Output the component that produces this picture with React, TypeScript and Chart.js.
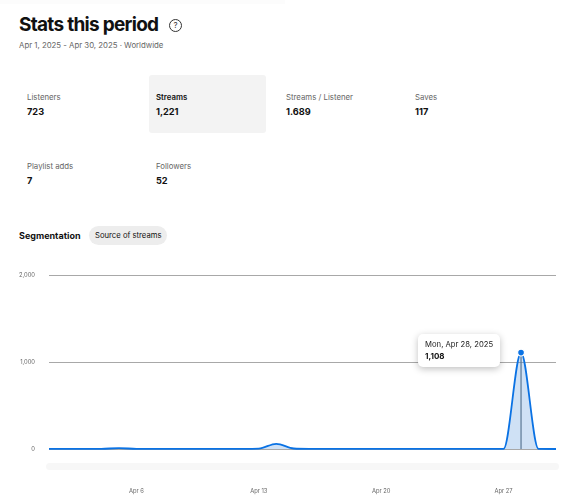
import React, { useEffect, useRef } from "react";
import { Chart, registerables } from "chart.js";

Chart.register(...registerables);

const days = ["Apr 1","Apr 2","Apr 3","Apr 4","Apr 5","Apr 6","Apr 7","Apr 8","Apr 9","Apr 10","Apr 11","Apr 12","Apr 13","Apr 14","Apr 15","Apr 16","Apr 17","Apr 18","Apr 19","Apr 20","Apr 21","Apr 22","Apr 23","Apr 24","Apr 25","Apr 26","Apr 27","Apr 28","Apr 29","Apr 30"];
const streams = [1,1,1,2,10,2,1,1,1,1,1,2,5,60,6,2,1,1,1,1,1,1,1,1,1,1,1,1108,1,0];
const shownTicks = ["Apr 6","Apr 13","Apr 20","Apr 27"];
const activeIndex = 27;
const tooltipTitle = "Mon, Apr 28, 2025";

const statsRow1 = [["Listeners","723"],["Streams","1,221"],["Streams / Listener","1.689"],["Saves","117"]];
const statsRow2 = [["Playlist adds","7"],["Followers","52"]];
const columnX = [27,156,286,415];

const font = "Inter, 'Noto Sans', sans-serif";

const Text = ({ x, y, size, weight = 400, color = "#111", children, ls = 0 }: any) => (
  <div style={{ position: "absolute", left: x, top: y, fontSize: size, fontWeight: weight, color, lineHeight: 1, whiteSpace: "nowrap", letterSpacing: ls, fontFamily: font }}>{children}</div>
);

const focusLine = {
  id: "focusLine",
  beforeDatasetsDraw(chart: any) {
    const { ctx, scales } = chart;
    const x = scales.x.getPixelForValue(activeIndex);
    ctx.save();
    ctx.strokeStyle = "#5f6f7c";
    ctx.lineWidth = 1.2;
    ctx.beginPath();
    ctx.moveTo(x, scales.y.getPixelForValue(streams[activeIndex]));
    ctx.lineTo(x, scales.y.getPixelForValue(0));
    ctx.stroke();
    ctx.restore();
  },
};

export default function App() {
  const ref = useRef<HTMLCanvasElement>(null);
  const tipRef = useRef<HTMLDivElement>(null);
  useEffect(() => {
    const chart = new Chart(ref.current!, {
      type: "line",
      data: {
        labels: days,
        datasets: [{
          data: streams,
          borderColor: "#0a72e4",
          borderWidth: 1.8,
          backgroundColor: "rgba(70,140,215,0.26)",
          fill: "origin",
          cubicInterpolationMode: "monotone",
          pointRadius: streams.map((_, i) => (i === activeIndex ? 3.4 : 0)),
          pointBackgroundColor: "#0a72e4",
          pointBorderColor: "#ffffff",
          pointBorderWidth: 1.2,
          clip: false,
        }],
      },
      options: {
        responsive: false,
        animation: false,
        events: [],
        layout: { padding: { top: 275, right: 8, bottom: 0, left: 0 } },
        plugins: {
          legend: { display: false },
          tooltip: {
            enabled: false,
            external: ({ tooltip }: any) => {
              const el = tipRef.current;
              if (!el || !tooltip.dataPoints?.length) return;
              el.children[0].textContent = tooltipTitle;
              el.children[1].textContent = tooltip.dataPoints[0].parsed.y.toLocaleString("en-US");
              el.style.display = "block";
              el.style.left = tooltip.caretX - 103 + "px";
              el.style.top = tooltip.caretY - 19 + "px";
            },
          },
        },
        scales: {
          x: {
            afterFit: (s: any) => { s.height = 51; },
            grid: { display: false },
            border: { display: false },
            ticks: {
              autoSkip: false,
              maxRotation: 0,
              padding: 31,
              color: "#666",
              font: { size: 5.8, family: font },
              callback(this: any, v: any) {
                const l = this.getLabelForValue(v);
                return shownTicks.includes(l) ? l : null;
              },
            },
          },
          y: {
            min: 0,
            max: 2000,
            afterFit: (s: any) => { s.width = 49; },
            border: { display: false },
            grid: { color: "#a8a8a8", lineWidth: 1, drawTicks: false },
            ticks: {
              stepSize: 1000,
              padding: 14,
              color: "#666",
              font: { size: 5.8, family: font },
              callback: (v: any) => Number(v).toLocaleString("en-US"),
            },
          },
        },
      } as any,
      plugins: [focusLine],
    });
    chart.tooltip!.setActiveElements([{ datasetIndex: 0, index: activeIndex }], { x: 0, y: 0 });
    chart.update();
    return () => chart.destroy();
  }, []);

  const stat = ([label, value]: string[], x: number, y: number, active = false) => (
    <React.Fragment key={label}>
      <Text x={x} y={y} size={7.8} weight={active ? 600 : 400} color={active ? "#111" : "#666"}>{label}</Text>
      <Text x={x} y={y + 13.5} size={9.2} weight={700} color="#111">{value}</Text>
    </React.Fragment>
  );

  return (
    <div style={{ position: "absolute", left: 0, top: 0, width: 564, height: 500, background: "#fff", overflow: "hidden", fontFamily: font }}>
      <div style={{ position: "absolute", left: 0, top: 0, width: 285, height: 4, background: "#fcfcfc" }} />
      <Text x={19} y={15} size={19} weight={700} color="#111" ls={-0.72}>Stats this period</Text>
      <div style={{ position: "absolute", left: 169, top: 18.5, width: 11, height: 11, border: "1px solid #333", borderRadius: "50%", fontSize: 8, lineHeight: "11px", textAlign: "center", color: "#333" }}>?</div>
      <Text x={19} y={42} size={7.8} color="#666">Apr 1, 2025 - Apr 30, 2025 · Worldwide</Text>

      <div style={{ position: "absolute", left: 149, top: 75, width: 117, height: 58, background: "#f3f3f3", borderRadius: 3 }} />
      {statsRow1.map((s, i) => stat(s, columnX[i], 93.5, i === 1))}
      {statsRow2.map((s, i) => stat(s, columnX[i], 162.5))}

      <Text x={19} y={231} size={9} weight={700} color="#111">Segmentation</Text>
      <div style={{ position: "absolute", left: 89, top: 226, width: 78, height: 18.5, background: "#ededed", borderRadius: 9.5 }} />
      <Text x={95} y={231.5} size={7.7} color="#111">Source of streams</Text>

      <div style={{ position: "absolute", left: 46, top: 463, width: 513, height: 7, background: "#f7f7f7", borderRadius: 4 }} />
      <canvas ref={ref} width={564} height={500} style={{ position: "absolute", left: 0, top: 0, display: "block" }} />

      <div ref={tipRef} style={{ position: "absolute", display: "none", width: 82, height: 33, boxSizing: "border-box", padding: "6.5px 0 0 7px", background: "#fff", borderRadius: 5, boxShadow: "0 2px 7px rgba(0,0,0,0.25)", whiteSpace: "nowrap" }}>
        <div style={{ fontSize: 7.7, lineHeight: "10px", color: "#222" }} />
        <div style={{ fontSize: 8, lineHeight: "13px", fontWeight: 700, color: "#111" }} />
      </div>
    </div>
  );
}
